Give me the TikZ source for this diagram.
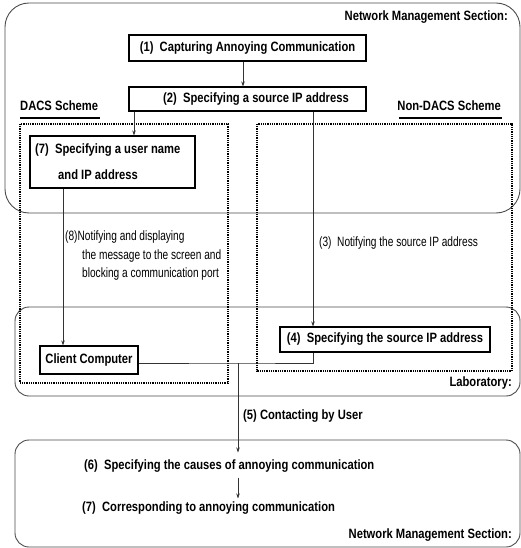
\documentclass[tikz,border=0pt]{standalone}
\usepackage{fontspec}
\setmainfont{Liberation Sans}
\newfontfamily\bfnt[FakeStretch=0.83]{Liberation Sans}
\newfontfamily\rgnt[FakeStretch=0.75]{Liberation Sans}
\usetikzlibrary{arrows.meta}
\begin{document}
\begin{tikzpicture}[x=1pt,y=-1pt,
  bf/.style={font=\bfnt\bfseries\fontsize{13.5}{16}\selectfont},
  rg/.style={font=\rgnt\fontsize{13.5}{16}\selectfont},
  box/.style={draw=black,line width=1.1pt,bf,inner sep=0pt},
  region/.style={draw=black!70,line width=0.9pt,rounded corners=14pt},
  zone/.style={draw=black,line width=1.1pt,dash pattern=on 0.9pt off 0.9pt},
  conn/.style={draw=black!80,line width=0.7pt},
  arr/.style={conn,-{Stealth[length=5pt,width=3.5pt]}},
  lbl/.style={inner sep=0pt}]
\fill[white] (0,0) rectangle (521,548);
\useasboundingbox (0,0) rectangle (521,548);
% regions
\draw[region,rounded corners=24pt] (5,3) rectangle (520,213);
\draw[region] (15,307) rectangle (520,396);
\draw[region] (15,440) rectangle (520,547);
% schemes
\draw[zone] (20,124) rectangle (228,383);
\draw[zone] (257,124) rectangle (512,371);
% boxes
\node[box,minimum width=237pt,minimum height=26pt] (b1) at (247.5,48) {(1)\ \ Capturing Annoying Communication};
\node[box,minimum width=237pt,minimum height=24pt] (b2) at (247.5,99) {\hspace*{17pt}(2)\ \ Specifying a source IP address};
\node[box,minimum width=165pt,minimum height=52pt] (b7) at (112.5,162) {};
\node[bf,anchor=west,lbl] (b7a) at (35,150) {(7)\ \ Specifying a user name};
\node[bf,anchor=west,lbl] (b7b) at (58,175) {and IP address};
\node[box,minimum width=210pt,minimum height=25pt] (b4) at (385,339.5) {(4)\ \ Specifying the source IP address};
\node[box,minimum width=98pt,minimum height=28pt] (cc) at (89,360) {Client Computer};
% headings
\node[bf,anchor=east,lbl] (nm1) at (508,17) {Network Management Section:};
\node[bf,anchor=west,lbl] (dacs) at (20,106) {DACS Scheme};
\draw[line width=1.6pt] (20,118) -- (100,118);
\node[bf,anchor=east,lbl] (ndacs) at (501,106) {Non-DACS Scheme};
\draw[line width=1.6pt] (399,118) -- (502,118);
\node[bf,anchor=east,lbl] (lab) at (512,383) {Laboratory:};
\node[bf,anchor=east,lbl] (nm2) at (512,535) {Network Management Section:};
% labels
\node[rg,anchor=west,lbl] (l8a) at (65,237.5) {(8)Notifying and displaying};
\node[rg,anchor=west,lbl] (l8b) at (82,256) {the message to the screen and};
\node[rg,anchor=west,lbl] (l8c) at (82,274) {blocking a communication port};
\node[rg,anchor=west,lbl] (l3) at (319,243) {(3)\ \ Notifying the source IP address};
\node[bf,anchor=west,lbl] (c5) at (243,416) {(5) Contacting by User};
\node[bf,anchor=west,lbl] (t6) at (84,466) {(6)\ \ Specifying the causes of annoying communication};
\node[bf,anchor=west,lbl] (t7) at (82,508) {(7)\ \ Corresponding to annoying communication};
% connectors
\coordinate (xa) at (243,0);
\coordinate (xb) at (134,0);
\coordinate (xc) at (313,0);
\coordinate (xd) at (63,0);
\coordinate (j) at (238,363);
\draw[arr] (b1.south -| xa) -- (b2.north -| xa);
\draw[arr] (b2.south -| xb) -- (b7.north -| xb);
\draw[arr] (b2.south -| xc) -- (b4.north -| xc);
\draw[arr] (b7.south -| xd) -- (cc.north -| xd);
\draw[conn] (cc.east |- j) -- (j) -| (b4.south -| xc);
\draw[arr] (j) -- ([yshift=7pt]t6.north -| j);
\draw[arr] ([yshift=-5pt]t6.south -| j) -- ([yshift=3pt]t7.north -| j);
\end{tikzpicture}
\end{document}
